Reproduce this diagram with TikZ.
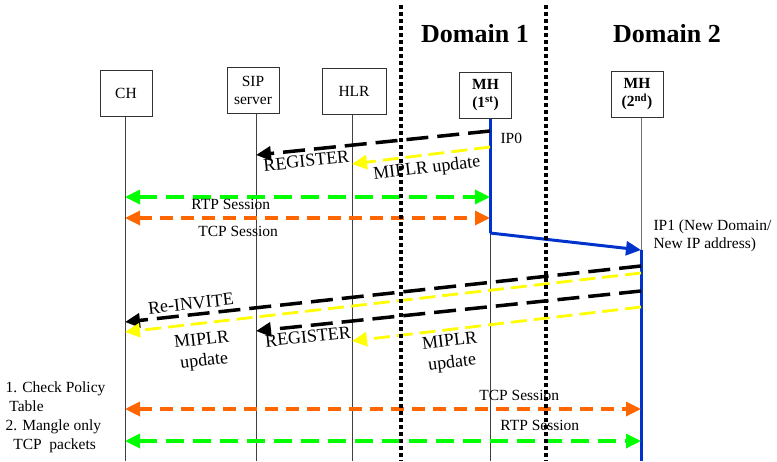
\documentclass[tikz,border=0pt]{standalone}
\usepackage{fontspec}
\setmainfont{Liberation Serif}
\usetikzlibrary{arrows.meta}

\definecolor{rtpgreen}{RGB}{0,255,0}
\definecolor{tcporange}{RGB}{255,102,0}
\definecolor{miplryellow}{RGB}{255,255,0}
\definecolor{moveblue}{RGB}{0,51,204}

\begin{document}
\begin{tikzpicture}[x=1pt,y=-1pt,>={Triangle[length=15pt,width=14pt]},
    font=\fontsize{15.5}{18}\selectfont,
    entity/.style={draw=black!80,line width=1pt,minimum width=52pt,minimum height=46pt,align=center,inner sep=2pt},
    life/.style={draw=black!75,line width=1pt},
    border/.style={line width=4pt,dash pattern=on 4pt off 3pt},
    sig/.style={line width=3.5pt,dash pattern=on 22pt off 9pt},
    upd/.style={miplryellow,line width=2.8pt,dash pattern=on 16pt off 7pt},
    rtp/.style={rtpgreen,line width=3.3pt,dash pattern=on 18pt off 9pt},
    tcp/.style={tcporange,line width=3.3pt,dash pattern=on 13pt off 8pt},
    moved/.style={moveblue,line width=3pt},
    tag/.style={text=black},
    big/.style={tag,font=\fontsize{18}{21.5}\selectfont,align=center}]

   \useasboundingbox (0,0) rectangle (777,461);

   \node[entity]                     (CH)  at (126,93)   {CH};
   \node[entity]                     (SIP) at (253,90.5) {SIP\\server};
   \node[entity,minimum width=64pt]  (HLR) at (354,91)   {HLR};
   \node[entity]                     (MHa) at (485.5,95) {\textbf{MH}\\\textbf{(1\textsuperscript{st})}};
   \node[entity]                     (MHb) at (637,94)   {\textbf{MH}\\\textbf{(2\textsuperscript{nd})}};

   \node[font=\fontsize{26}{28}\selectfont\bfseries] (D1) at (475,34) {Domain 1};
   \node[font=\fontsize{26}{28}\selectfont\bfseries] (D2) at (667,34) {Domain 2};

   \coordinate (ch)  at (125,461);
   \coordinate (sip) at (256,461);
   \coordinate (hlr) at (352,461);
   \coordinate (mha) at (490,461);
   \coordinate (mhb) at (641,461);
   \coordinate (hoa) at (490,233);
   \coordinate (hob) at (641,250);

   \draw[life] (ch |- CH.south)   -- (ch);
   \draw[life] (sip |- SIP.south) -- (sip);
   \draw[life] (hlr |- HLR.south) -- (hlr);
   \draw[life] (hoa) -- (mha);
   \draw[life,draw=black!55] (mhb |- MHb.south) -- (hob);
   \draw[moved] (mha |- MHa.south) -- (hoa);
   \draw[moved] (hob) -- (mhb);
   \draw[moved,->] (hoa) -- (hob);

   \node[anchor=west] (ip0) at (497,138) {IP0};
   \node[anchor=west,align=left] (ip1) at (650,236) {IP1 (New Domain/\\New IP address)};
   \node[anchor=north west,align=left,font=\fontsize{15.5}{19}\selectfont] (policy) at (2,378)
      {1. Check Policy\\\ Table\\2. Mangle only\\\ \ TCP\ \ packets};

   \path[->]
      (mha |- 0,131) edge[sig] node[big,sloped,below,pos=.79] {REGISTER} (sip |- 0,155)
      (mha |- 0,147) edge[upd] node[big,sloped,below=1pt,pos=.47] {MIPLR update} (hlr |- 0,164)
      (ch |- 0,197)  edge[rtp,<->] node[tag,below,inner sep=1pt,pos=.29] {RTP Session} (mha |- 0,197)
      (ch |- 0,218)  edge[tcp,<->] node[tag,below=3pt,pos=.31] {TCP Session} (mha |- 0,218)
      (mhb |- 0,266) edge[sig] node[big,sloped,above,pos=.87] {Re-INVITE} (ch |- 0,322)
      (mhb |- 0,273) edge[upd] node[big,sloped,below=5pt,pos=.855] {MIPLR\\update} (ch |- 0,332)
      (mhb |- 0,291) edge[sig] node[big,sloped,below,pos=.868] {REGISTER} (sip |- 0,331)
      (mhb |- 0,307) edge[upd] node[big,sloped,below,pos=.667] {MIPLR\\update} (hlr |- 0,341)
      (ch |- 0,409)  edge[tcp,<->] node[tag,above=3pt,pos=.764] {TCP Session} (mhb |- 0,409)
      (ch |- 0,441)  edge[rtp,<->] node[tag,above=5pt,pos=.804] {RTP Session} (mhb |- 0,441);

   \draw[border] (401,5) -- (401,461);
   \draw[border] (546,5) -- (546,461);
\end{tikzpicture}
\end{document}
